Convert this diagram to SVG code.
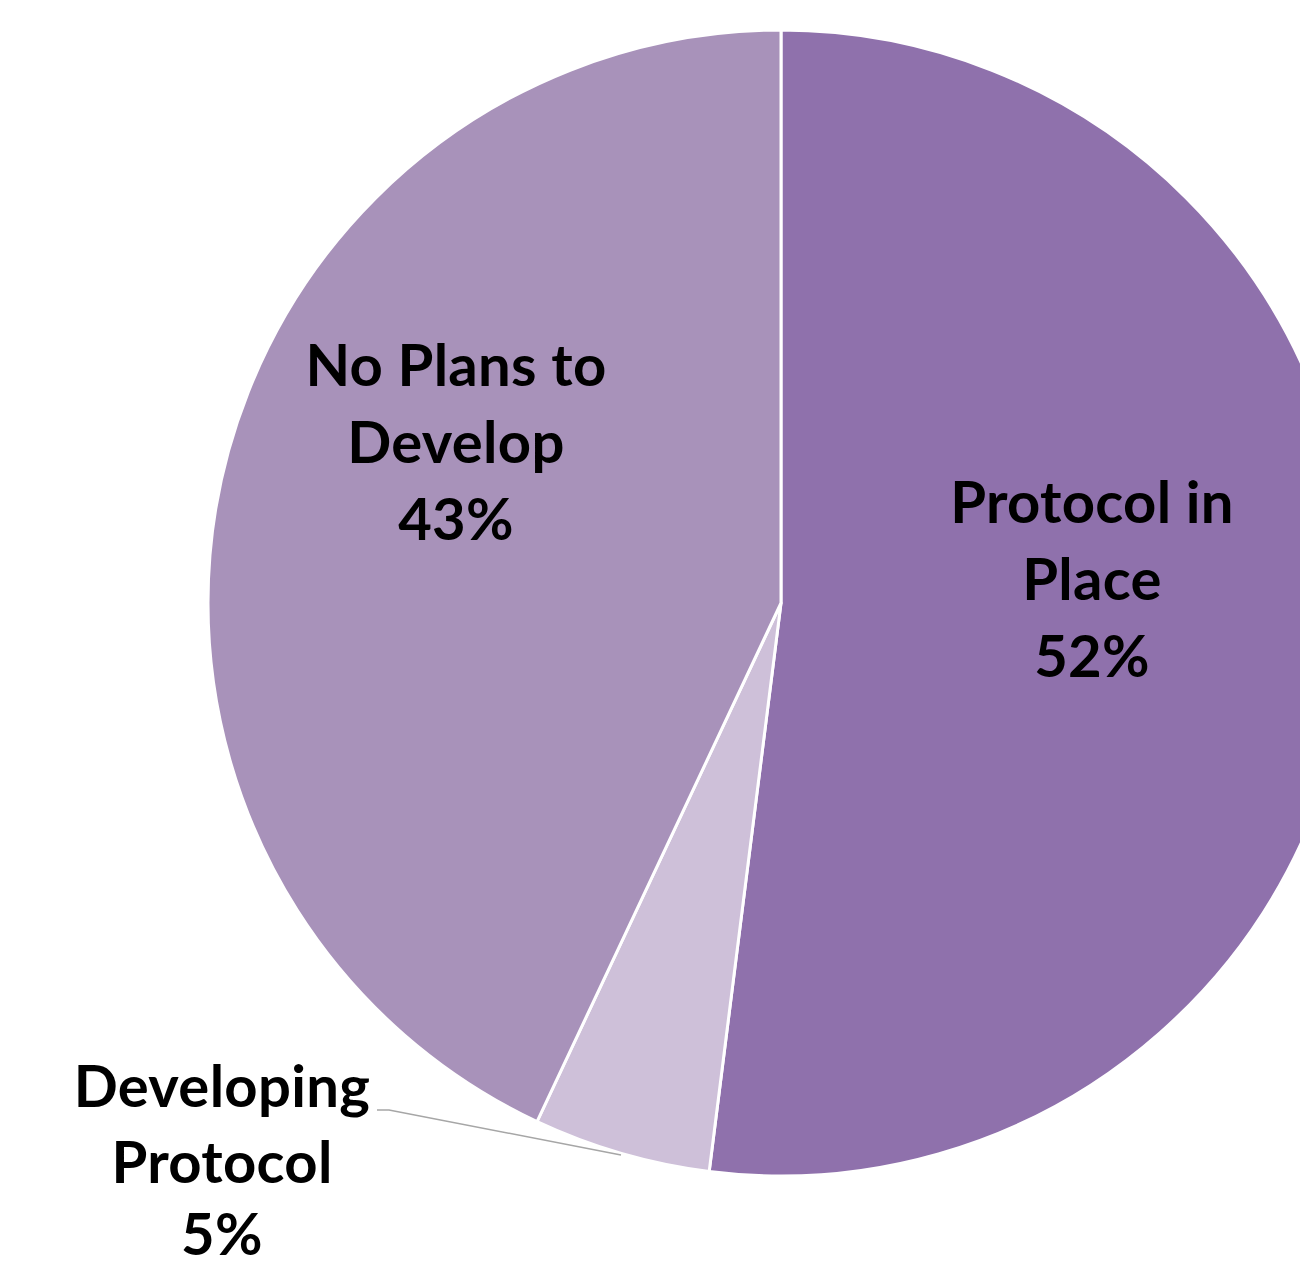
<svg xmlns="http://www.w3.org/2000/svg" width="1300" height="1268" viewBox="0 0 1300 1268">
<style>
.slice{stroke:#FFFFFF;stroke-width:3;stroke-linejoin:round}
.lbl{font-family:Lato,"Liberation Sans",sans-serif;font-weight:bold;font-size:58px;fill:#000000;text-anchor:middle;letter-spacing:0.3px}
.leader{fill:none;stroke:#A6A6A6;stroke-width:1.5}
</style>
<rect x="0" y="0" width="1300" height="1268" fill="#FFFFFF"/>
<g id="slice-protocol-in-place">
<path class="slice" fill="#8F71AC" d="M781,603 L781,30 A573,573 0 0 1 1354,603 A573,573 0 0 1 709.18,1171.48 Z"/>
</g>
<g id="slice-developing-protocol">
<path class="slice" fill="#CEC0D9" d="M781,603 L709.18,1171.48 A573,573 0 0 1 537.02,1121.57 Z"/>
</g>
<g id="slice-no-plans">
<path class="slice" fill="#A892BA" d="M781,603 L537.02,1121.57 A573,573 0 0 1 208,603 A573,573 0 0 1 781,30 Z"/>
</g>
<g id="connectors">
<polyline class="leader" points="377,1110 389,1110 621,1155"/>
</g>
<g id="label-protocol-in-place">
<text class="lbl" x="1092" y="523">Protocol in</text>
<text class="lbl" x="1092" y="600">Place</text>
<text class="lbl" x="1092" y="677">52%</text>
</g>
<g id="label-no-plans">
<text class="lbl" x="456" y="386">No Plans to</text>
<text class="lbl" x="456" y="463">Develop</text>
<text class="lbl" x="456" y="540">43%</text>
</g>
<g id="label-developing-protocol">
<text class="lbl" x="222" y="1107">Developing</text>
<text class="lbl" x="222" y="1183">Protocol</text>
<text class="lbl" x="222" y="1255">5%</text>
</g>
</svg>
